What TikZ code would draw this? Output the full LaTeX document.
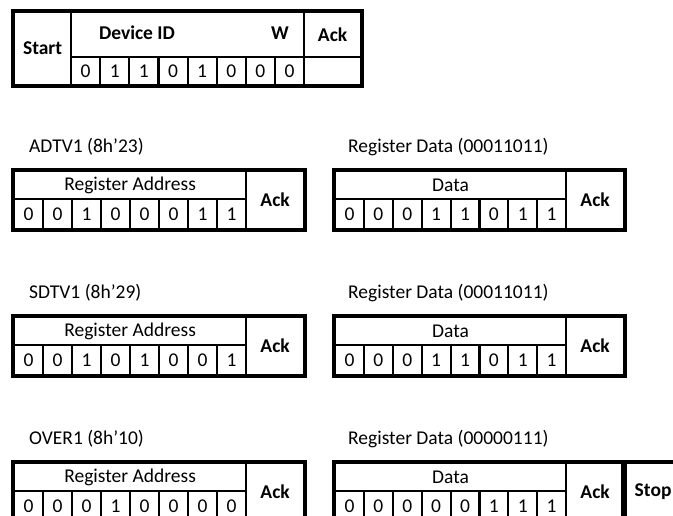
\documentclass[tikz,border=0pt]{standalone}
\usepackage{fontspec}
\setmainfont{Carlito}
\usetikzlibrary{positioning}

\begin{document}
\begin{tikzpicture}[x=1pt, y=1pt,
        font=\fontsize{19.5}{23}\selectfont,
        cell/.style={draw, line width=2.2pt, inner sep=0pt, anchor=north west},
        hdr/.style={font=\fontsize{19.5}{23}\selectfont\bfseries},
        frame/.style={draw, line width=4.5pt},
        lbl/.style={anchor=west, inner sep=0pt}]
        \useasboundingbox (0,0) rectangle (673,-516);
        \clip (0,0) rectangle (673,-516);
        % device address byte
        \node[cell, hdr, minimum width=57pt, minimum height=73pt] (start) at (13,-11) {Start};
        \node[cell, minimum width=233pt, minimum height=45pt] (devid) at (70,-11) {};
        \node[hdr] (devtxt) at (137,-33) {Device ID};
        \node[hdr] (wtxt) at (280,-33) {W};
        \foreach \b [count=\i from 0] in {0,1,1,0,1,0,0,0}
          \node[cell, minimum width=29.125pt, minimum height=28pt] (dev\i) at ({70+29.125*\i},-56) {\b};
        \node[cell, hdr, minimum width=57pt, minimum height=45pt] (devack) at (303,-11) {Ack};
        \node[cell, minimum width=57pt, minimum height=28pt] (devackbit) at (303,-56) {};
        \draw[frame] (start.north west) rectangle (devackbit.south east);
        % register address + data pairs
        \foreach \y/\reg/\addr/\data/\dbits [count=\r] in {
            170/ADTV1 (8h'23)/{0,0,1,0,0,0,1,1}/00011011/{0,0,0,1,1,0,1,1},
            316/SDTV1 (8h'29)/{0,0,1,0,1,0,0,1}/00011011/{0,0,0,1,1,0,1,1},
            462/OVER1 (8h'10)/{0,0,0,1,0,0,0,0}/00000111/{0,0,0,0,0,1,1,1}} {
          \node[lbl] (regname\r) at (29,{23-\y}) {\reg};
          \node[lbl] (dataname\r) at (348,{23-\y}) {Register Data (\data)};
          % address byte
          \node[cell, minimum width=232pt, minimum height=28pt] (addrtitle\r) at (13,-\y) {Register Address};
          \foreach \b [count=\i from 0] in \addr
            \node[cell, minimum width=29pt, minimum height=30pt] (addr\r-\i) at ({13+29*\i},{-\y-28}) {\b};
          \node[cell, hdr, minimum width=58pt, minimum height=58pt] (addrack\r) at (245,-\y) {Ack};
          \draw[frame] (addrtitle\r.north west) rectangle (addrack\r.south east);
          % data byte
          \node[cell, minimum width=231pt, minimum height=28pt] (datatitle\r) at (334,-\y) {Data};
          \foreach \b [count=\i from 0] in \dbits
            \node[cell, minimum width=28.875pt, minimum height=30pt] (data\r-\i) at ({334+28.875*\i},{-\y-28}) {\b};
          \node[cell, hdr, minimum width=58pt, minimum height=58pt] (dataack\r) at (565,-\y) {Ack};
          \draw[frame] (datatitle\r.north west) rectangle (dataack\r.south east);
        }
        \node[cell, hdr, minimum width=58pt, minimum height=58pt] (stop) at (623,-462) {Stop};
        \draw[frame] (stop.north west) rectangle (stop.south east);
      \end{tikzpicture}
\end{document}
